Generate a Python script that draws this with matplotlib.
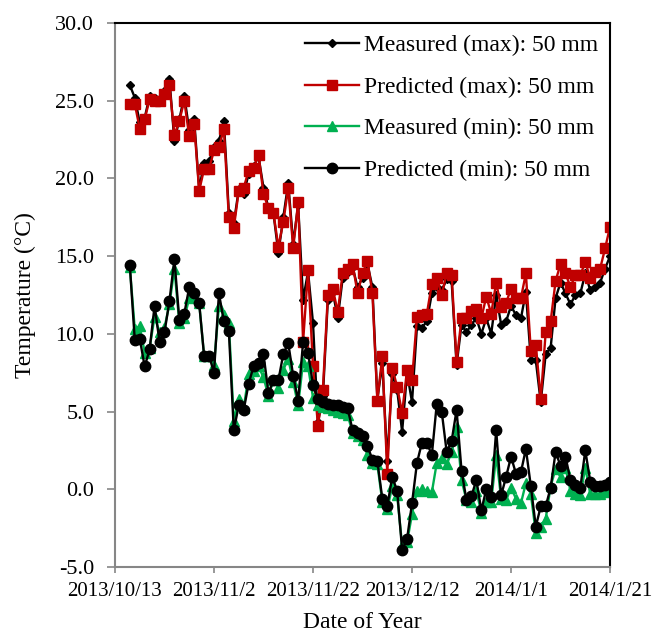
import numpy as np
import pandas as pd
import matplotlib
matplotlib.use("Agg")
import matplotlib.pyplot as plt

plt.rcParams['font.family'] = ['Liberation Serif', 'DejaVu Serif']

dates = pd.date_range("2013-10-16", "2014-01-21", freq="D")

meas_max = [26.0, 25.2, 23.6, 23.9, 25.3, 25.2, 25.1, 25.6, 26.4, 22.4,
            23.8, 25.3, 23.1, 23.8, 19.3, 21.0, 21.1, 22.0, 22.4, 23.7,
            17.8, 17.1, 19.3, 19.0, 20.3, 20.8, 21.4, 19.4, 18.1, 17.8,
            15.2, 17.5, 19.7, 15.8, 18.3, 12.2, 14.0, 10.7, 4.3, 6.0,
            12.2, 12.7, 11.0, 13.6, 14.0, 14.3, 13.0, 13.6, 14.5, 13.0,
            5.8, 8.1, 1.8, 7.4, 6.4, 3.7, 7.5, 5.6, 10.5, 10.4,
            10.8, 12.6, 13.0, 12.8, 13.5, 13.4, 8.0, 10.6, 10.1, 10.6,
            11.0, 10.0, 11.0, 10.0, 12.5, 10.6, 10.8, 11.8, 11.2, 11.0,
            12.7, 8.3, 8.3, 5.6, 8.7, 9.1, 12.3, 13.3, 12.6, 11.9,
            12.5, 12.6, 13.9, 12.8, 13.0, 13.3, 14.2, 15.0]

pred_max = [24.8, 24.8, 23.2, 23.8, 25.1, 25.0, 25.0, 25.4, 26.0, 22.8,
            23.7, 25.0, 22.7, 23.5, 19.2, 20.6, 20.6, 21.8, 22.0, 23.2,
            17.5, 16.8, 19.2, 19.4, 20.5, 20.7, 21.5, 19.0, 18.1, 17.8,
            15.6, 17.2, 19.4, 15.5, 18.5, 9.5, 14.1, 7.9, 4.1, 6.4,
            12.5, 12.9, 11.4, 13.9, 14.2, 14.5, 12.6, 13.9, 14.7, 12.6,
            5.7, 8.6, 1.0, 7.8, 6.6, 4.9, 7.7, 7.0, 11.1, 11.2,
            11.3, 13.2, 13.6, 12.5, 13.9, 13.8, 8.2, 11.0, 11.0, 11.5,
            11.6, 11.0, 12.4, 11.3, 13.3, 11.7, 12.0, 12.9, 12.3, 12.3,
            13.9, 8.9, 9.3, 5.8, 10.1, 10.8, 13.4, 14.5, 13.9, 13.0,
            13.8, 13.8, 14.6, 13.6, 14.0, 14.2, 15.5, 16.9]

meas_min = [14.3, 10.3, 10.5, 8.8, 9.1, 11.1, 10.1, 10.4, 11.9, 14.2,
            10.7, 11.0, 12.3, 12.5, 12.0, 8.6, 8.6, 8.0, 11.8, 11.2,
            10.7, 4.4, 5.8, 5.2, 7.4, 7.6, 7.9, 7.2, 6.0, 7.0,
            6.5, 7.7, 8.4, 6.9, 5.4, 8.2, 7.9, 5.9, 5.4, 5.3,
            5.2, 5.1, 5.0, 4.9, 4.8, 3.6, 3.4, 3.2, 2.2, 1.7,
            1.6, -0.8, -1.3, 0.2, -0.4, -3.6, -3.4, -1.6, -0.1, 0.0,
            -0.1, -0.2, 1.7, 2.0, 1.6, 2.4, 4.0, 0.6, -0.7, -0.8,
            -0.1, -1.5, -0.8, -0.8, 2.2, -0.6, -0.7, 0.1, -0.6, -0.9,
            0.4, -0.3, -2.8, -2.4, -1.9, 0.2, 1.3, 0.8, 1.4, -0.1,
            -0.3, -0.4, 1.4, -0.3, -0.3, -0.3, -0.2, 0.0]

pred_min = [14.4, 9.6, 9.7, 7.9, 9.0, 11.8, 9.5, 10.1, 12.1, 14.8,
            10.9, 11.3, 13.0, 12.6, 12.0, 8.6, 8.6, 7.5, 12.6, 10.8,
            10.2, 3.8, 5.4, 5.1, 6.8, 7.9, 8.1, 8.7, 6.2, 7.0,
            7.0, 8.7, 9.4, 7.3, 5.7, 9.5, 8.8, 6.7, 5.8, 5.6,
            5.5, 5.45, 5.4, 5.3, 5.2, 3.8, 3.6, 3.4, 2.8, 1.9,
            1.8, -0.6, -1.1, 0.8, -0.1, -3.9, -3.2, -0.9, 1.7, 3.0,
            3.0, 2.2, 5.5, 5.0, 2.4, 3.1, 5.1, 1.2, -0.7, -0.45,
            0.6, -1.35, 0.0, -0.5, 3.8, -0.4, 0.8, 2.1, 1.0, 1.1,
            2.6, 0.2, -2.4, -1.1, -1.1, 0.1, 2.4, 1.5, 2.1, 0.6,
            0.3, 0.1, 2.5, 0.5, 0.2, 0.2, 0.25, 0.5]

tick_dates = pd.date_range("2013-10-13", "2014-01-21", freq="20D")
tick_labels = [f"{d.year}/{d.month}/{d.day}" for d in tick_dates]
y_ticks = np.arange(-5, 31, 5)

fig = plt.figure(figsize=(6.54, 6.37), dpi=100)
ax = fig.add_axes([0.1758, 0.1099, 0.757, 0.854])

ax.plot(dates, meas_max, color="black", lw=1.7, marker="D", ms=4.5,
        label="Measured (max): 50 mm")
ax.plot(dates, pred_max, color="#C00000", lw=1.7, marker="s", ms=7,
        label="Predicted (max): 50 mm")
ax.plot(dates, meas_min, color="#00B050", lw=1.7, marker="^", ms=7,
        label="Measured (min): 50 mm")
ax.plot(dates, pred_min, color="black", lw=1.7, marker="o", ms=7.5,
        label="Predicted (min): 50 mm")

ax.set_xlim(tick_dates[0], tick_dates[-1])
ax.set_ylim(-5, 30)
ax.set_yticks(y_ticks)
ax.set_yticklabels([f"{v:.1f}" for v in y_ticks])
ax.set_xticks(tick_dates)
ax.set_xticklabels(tick_labels)
ax.tick_params(color="#868686", width=1.2, direction="out")
ax.tick_params(axis="x", labelsize=15, length=4, pad=7)
ax.tick_params(axis="y", labelsize=16, length=6, pad=9)

for s in ["left", "bottom"]:
    ax.spines[s].set_color("#868686")
    ax.spines[s].set_linewidth(1.5)
for s in ["top", "right"]:
    ax.spines[s].set_color("black")
    ax.spines[s].set_linewidth(1.5)

ax.set_xlabel("Date of Year", fontsize=17, labelpad=8)
ax.set_ylabel("Temperature (°C)", fontsize=17, labelpad=14)

ax.legend(loc="upper right", bbox_to_anchor=(1.0, 1.0), frameon=False,
          fontsize=17, handlelength=2.3, handletextpad=0.2, labelspacing=0.85,
          borderaxespad=0.1)

fig.savefig("out.png", dpi=100)
